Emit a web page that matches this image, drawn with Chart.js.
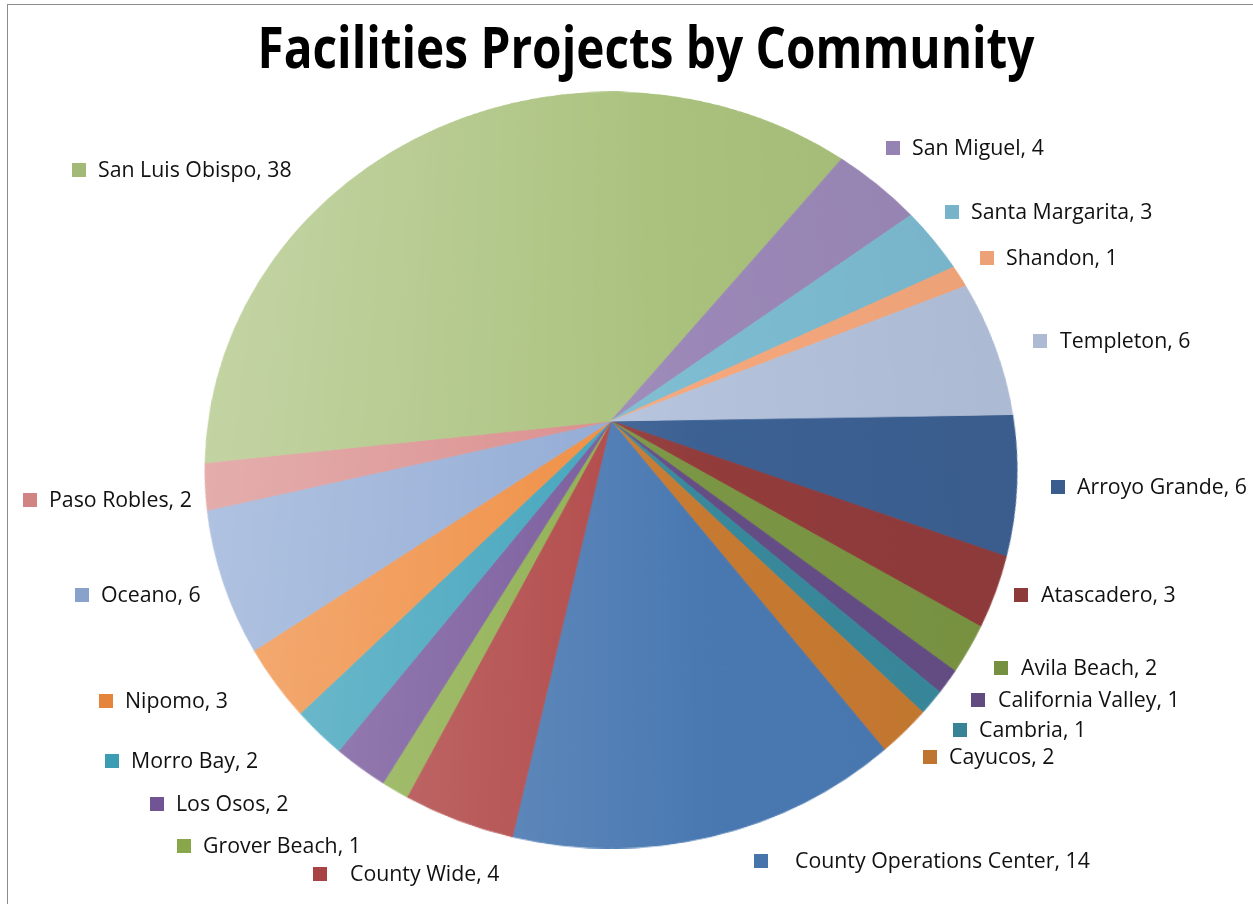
<!DOCTYPE html>
<html>
<head>
<meta charset="utf-8">
<script src="https://cdn.jsdelivr.net/npm/chart.js@4.4.1/dist/chart.umd.min.js"></script>
<style>
  html, body { margin: 0; padding: 0; background: #fff; }
  #wrap { position: relative; width: 1253px; height: 904px; overflow: hidden; }
  #frame { position: absolute; left: 7px; top: 4px; right: -2px; bottom: -2px;
           border-left: 1px solid #8c8c8c; border-top: 1px solid #8c8c8c; }
  canvas { position: absolute; left: 0; top: 0; }
</style>
</head>
<body>
<div id="wrap">
  <div id="frame"></div>
  <canvas id="pie" width="1253" height="904"></canvas>
</div>
<script>
var chartTitle = 'Facilities Projects by Community';

var communities = ['Arroyo Grande', 'Atascadero', 'Avila Beach', 'California Valley', 'Cambria',
  'Cayucos', 'County Operations Center', 'County Wide', 'Grover Beach', 'Los Osos',
  'Morro Bay', 'Nipomo', 'Oceano', 'Paso Robles', 'San Luis Obispo',
  'San Miguel', 'Santa Margarita', 'Shandon', 'Templeton'];
var projects = [6, 3, 2, 1, 1, 2, 14, 4, 1, 2, 2, 3, 6, 2, 38, 4, 3, 1, 6];

var sliceColors = ['#3c6193', '#933c3c', '#7b9644', '#654e86', '#39899c',
  '#c77a31', '#4a79b2', '#b04545', '#8dae4d', '#76579a',
  '#3ea2bb', '#ef8b3e', '#8fa9d4', '#d98b8a', '#a9c17c',
  '#9b88b8', '#7dbcd1', '#f6a87c', '#b4c2dc'];

// where each data label sits: key square x, text x, centre y
var labelSpots = [[1051, 1077, 487], [1014, 1041, 595], [994, 1021, 668], [971, 998, 700], [953, 979, 730],
  [923, 949, 757], [754, 795, 861], [313, 350, 874], [177, 203, 846], [150, 176, 804],
  [105, 131, 761], [99, 125, 701], [75, 101, 595], [23, 49, 500], [72, 98, 170],
  [886, 912, 148], [945, 971, 212], [980, 1006, 258], [1033, 1060, 341]];

var startAngle = 89;

// perspective of the tilted pie: apex, half width, reach up and down
var view = { cx: 611, cy: 421, rx: 406, up: 329, down: 427 };

function shade(hex, amt) {
  var n = parseInt(hex.slice(1), 16);
  var rgb = [(n >> 16) & 255, (n >> 8) & 255, n & 255].map(function (c) {
    var v = amt >= 0 ? c + (255 - c) * amt : c * (1 + amt);
    return Math.round(Math.max(0, Math.min(255, v)));
  });
  return 'rgb(' + rgb.join(',') + ')';
}

// one soft left-to-right sheen across the whole pie
function sliceFill(c) {
  var base = sliceColors[c.dataIndex];
  var area = c.chart.chartArea;
  if (!area) return base;
  var cx = (area.left + area.right) / 2;
  var r = Math.min(area.right - area.left, area.bottom - area.top) / 2;
  var g = c.chart.ctx.createLinearGradient(cx - r, 0, cx + r, 0);
  g.addColorStop(0, shade(base, 0.3));
  g.addColorStop(0.6, base);
  g.addColorStop(1, shade(base, -0.04));
  return g;
}

// re-project the flat pie onto the tilted ellipse, row by row
var tiltPlugin = {
  id: 'tilt',
  afterDatasetsDraw: function (chart) {
    var arc = chart.getDatasetMeta(0).data[0];
    var R = arc.outerRadius, sx0 = arc.x, sy0 = arc.y;
    var canvas = chart.canvas, ctx = chart.ctx;
    var W = canvas.width, H = canvas.height;
    var flat = document.createElement('canvas');
    flat.width = W; flat.height = H;
    flat.getContext('2d').drawImage(canvas, 0, 0);

    var d = (view.down + view.up) / (view.down - view.up);
    var b = view.up * (d + 1);
    var a = view.rx * Math.sqrt(d * d - 1);
    function vAt(y) { var t = y - view.cy; return t * d / (b + t); }

    ctx.save();
    ctx.setTransform(1, 0, 0, 1, 0, 0);
    ctx.clearRect(0, 0, W, H);
    ctx.imageSmoothingEnabled = true;
    var y0 = Math.floor(view.cy - view.up) - 1, y1 = Math.ceil(view.cy + view.down) + 1;
    for (var y = y0; y <= y1; y++) {
      var va = Math.max(-1, vAt(y)), vb = Math.min(1, vAt(y + 1));
      if (vb <= -1 || va >= 1) continue;
      var vm = (va + vb) / 2;
      var scale = a / (R * (d - vm));
      ctx.drawImage(flat, 0, sy0 + R * va, W, Math.max(0.01, R * (vb - va)),
        view.cx - scale * sx0, y, W * scale, 1);
    }
    ctx.restore();
  },
  afterDraw: function (chart) {
    var ctx = chart.ctx;
    ctx.save();
    ctx.fillStyle = '#000';
    ctx.textAlign = 'center';
    ctx.textBaseline = 'alphabetic';
    ctx.font = 'bold 58px "Open Sans"';
    ctx.fillText(chartTitle, 646, 68, 777);

    ctx.font = '21.3px "Open Sans"';
    ctx.textAlign = 'left';
    ctx.textBaseline = 'middle';
    communities.forEach(function (name, i) {
      var s = labelSpots[i];
      ctx.fillStyle = shade(sliceColors[i], -0.04);
      ctx.fillRect(s[0], s[2] - 7, 14, 14);
      ctx.fillStyle = '#111';
      ctx.fillText(name + ', ' + projects[i], s[1], s[2] + 1);
    });
    ctx.restore();
  }
};

new Chart(document.getElementById('pie'), {
  type: 'pie',
  data: {
    labels: communities,
    datasets: [{
      data: projects,
      backgroundColor: sliceFill,
      borderColor: sliceFill,
      borderWidth: 1
    }]
  },
  options: {
    responsive: false,
    animation: false,
    devicePixelRatio: 1,
    rotation: startAngle,
    layout: { padding: 20 },
    plugins: {
      legend: { display: false },
      tooltip: { enabled: false },
      title: { display: false }
    }
  },
  plugins: [tiltPlugin]
});
</script>
</body>
</html>
